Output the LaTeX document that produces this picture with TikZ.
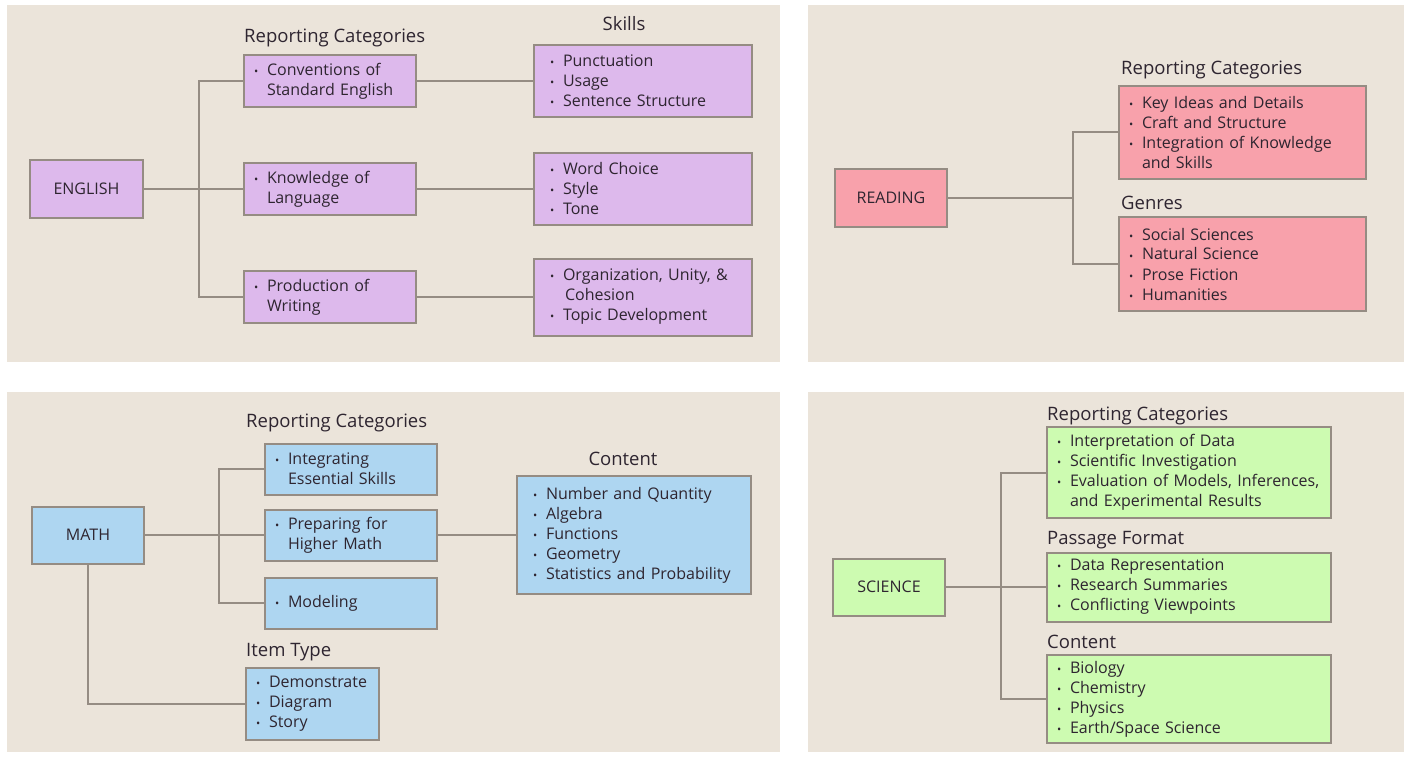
\documentclass[tikz,border=0pt]{standalone}
\usepackage{fontspec}
\setmainfont{Open Sans}
\definecolor{panel}{HTML}{EBE4DA}
\definecolor{edge}{HTML}{958C83}
\definecolor{ink}{HTML}{2E2530}
\definecolor{engc}{HTML}{DDB9EC}
\definecolor{readc}{HTML}{F8A1AB}
\definecolor{mathc}{HTML}{AED6F1}
\definecolor{scic}{HTML}{CDFBB1}
\newcommand{\itm}{\makebox[14pt][l]{\hspace{1pt}\scalebox{.7}{\textbullet}}}
\newcommand{\cnt}{\hspace*{14pt}}

\begin{document}
\begin{tikzpicture}[x=1pt, y=-1pt,
    box/.style = {draw=edge, line width=2pt, fill=#1, inner xsep=9pt, inner ysep=0pt,
        align=left, text=ink, font=\fontsize{16}{20}\selectfont},
    top/.style = {box=#1, align=center, minimum width=112pt, minimum height=57pt},
    head/.style = {anchor=base west, inner sep=0pt, text=ink, font=\fontsize{18.5}{22}\selectfont},
    link/.style = {draw=edge, line width=2pt}]
\useasboundingbox (0,0) rectangle (1406,757);
% panels
\fill[panel] (7,5) rectangle (780,362);
\fill[panel] (808,5) rectangle (1404,362);
\fill[panel] (7,392) rectangle (780,752);
\fill[panel] (808,392) rectangle (1404,752);

% english
\node[top=engc, minimum width=113pt] (eng) at (86.5,189) {ENGLISH};
\node[head] (engrc) at (244,43) {Reporting Categories};
\node[head, anchor=base] (engsk) at (624,31) {Skills};
\node[box=engc, text width=154pt, minimum height=52pt] (conv) at (330,81)
    {\itm Conventions of\\\cnt Standard English};
\node[box=engc, text width=154pt, minimum height=52pt] (know) at (330,189)
    {\itm Knowledge of\\\cnt Language};
\node[box=engc, text width=154pt, minimum height=52pt] (prod) at (330,297)
    {\itm Production of\\\cnt Writing};
\node[box=engc, inner xsep=15pt, text width=188pt, minimum height=72pt] (punc) at (643,81)
    {\itm Punctuation\\\itm Usage\\\itm Sentence Structure};
\node[box=engc, inner xsep=15pt, text width=188pt, minimum height=72pt] (word) at (643,189)
    {\itm Word Choice\\\itm Style\\\itm Tone};
\node[box=engc, inner xsep=15pt, text width=188pt, minimum height=77pt] (org) at (643,297)
    {\itm Organization, Unity, \&\\\cnt\hspace*{2pt}Cohesion\\\itm Topic Development};
\coordinate (etr) at (199,189);
\draw[link] (eng.east) -- (know.west);
\draw[link] (conv.west) -| (etr) |- (prod.west);
\draw[link] (conv.east) -- (punc.west);
\draw[link] (know.east) -- (word.west);
\draw[link] (prod.east) -- (org.west);

% reading
\node[top=readc] (read) at (891,198) {READING};
\node[head] (readrc) at (1121,75) {Reporting Categories};
\node[head] (readgn) at (1121,209) {Genres};
\node[box=readc, text width=229pt, minimum height=93pt] (rrc) at (1242.5,132.5)
    {\itm Key Ideas and Details\\\itm Craft and Structure\\\itm Integration of Knowledge\\\cnt and Skills};
\node[box=readc, text width=229pt, minimum height=94pt] (gen) at (1242.5,264)
    {\itm Social Sciences\\\itm Natural Science\\\itm Prose Fiction\\\itm Humanities};
\coordinate (rtr) at (1073,198);
\draw[link] (read.east) -- (rtr);
\draw[link] (rrc.west) -| (rtr) |- (gen.west);

% math
\node[top=mathc] (math) at (88,535) {MATH};
\node[head] (mathrc) at (246,427) {Reporting Categories};
\node[head, anchor=base] (mathct) at (623,465) {Content};
\node[head] (mathit) at (246,656) {Item Type};
\node[box=mathc, text width=154pt, minimum height=51pt] (integ) at (351,469)
    {\itm Integrating\\\cnt Essential Skills};
\node[box=mathc, text width=154pt, minimum height=51pt] (prep) at (351,535)
    {\itm Preparing for\\\cnt Higher Math};
\node[box=mathc, text width=154pt, minimum height=51pt] (model) at (351,603)
    {\itm Modeling};
\node[box=mathc, inner xsep=15pt, text width=204pt, minimum height=118pt] (cont) at (634,535)
    {\itm Number and Quantity\\\itm Algebra\\\itm Functions\\\itm Geometry\\\itm Statistics and Probability};
\node[box=mathc, text width=115pt, minimum height=72pt] (item) at (312.5,704)
    {\itm Demonstrate\\\itm Diagram\\\itm Story};
\coordinate (mtr) at (219,535);
\draw[link] (math.east) -- (prep.west);
\draw[link] (integ.west) -| (mtr) |- (model.west);
\draw[link] (prep.east) -- (cont.west);
\draw[link] (math.south) |- (item.west);

% science
\node[top=scic] (sci) at (889,587) {SCIENCE};
\node[head] (scirc) at (1047,420) {Reporting Categories};
\node[head] (scipf) at (1047,544) {Passage Format};
\node[head] (scict) at (1047,648) {Content};
\node[box=scic, text width=266pt, minimum height=91pt] (src) at (1189,472.5)
    {\itm Interpretation of Data\\\itm Scientific Investigation\\\itm Evaluation of Models, Inferences,\\\cnt and Experimental Results};
\node[box=scic, text width=266pt, minimum height=69pt] (pass) at (1189,587)
    {\itm Data Representation\\\itm Research Summaries\\\itm Conflicting Viewpoints};
\node[box=scic, text width=266pt, minimum height=88pt] (scont) at (1189,699)
    {\itm Biology\\\itm Chemistry\\\itm Physics\\\itm Earth/Space Science};
\coordinate (str) at (1001,587);
\draw[link] (sci.east) -- (pass.west);
\draw[link] (src.west) -| (str) |- (scont.west);
\end{tikzpicture}
\end{document}
